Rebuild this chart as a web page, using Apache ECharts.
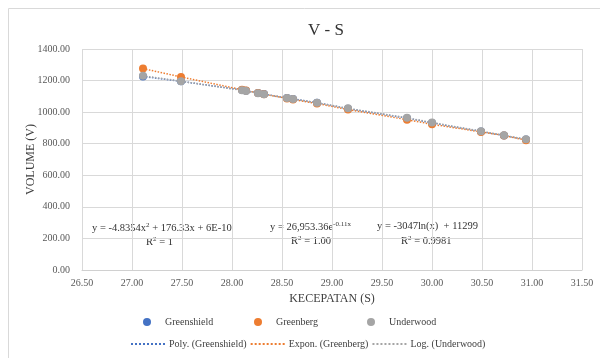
<!DOCTYPE html>
<html>
<head>
<meta charset="utf-8">
<script src="https://cdn.jsdelivr.net/npm/echarts@6/dist/echarts.min.js"></script>
<style>
  html, body { margin: 0; padding: 0; background: #fff; }
  #chart { width: 600px; height: 358px; }
</style>
</head>
<body>
<div id="chart"></div>
<script>
// kecepatan (S)
var speed = [27.11, 27.49, 28.10, 28.14, 28.26, 28.32, 28.55, 28.61, 28.85, 29.16, 29.75, 30.00, 30.49, 30.72, 30.94];
var greenshield = [1226, 1195, 1140, 1136, 1122, 1115, 1090, 1084, 1060, 1022, 962, 932, 878, 852, 826];
var greenberg = [1276, 1223, 1142, 1137, 1122, 1114, 1087, 1080, 1055, 1016, 952, 923, 875, 852, 822];
var underwood = [1230, 1196, 1138, 1134, 1120, 1113, 1089, 1083, 1060, 1024, 964, 934, 879, 853, 828];

var blue = '#4472C4', orange = '#ED7D31', gray = '#A5A5A5';
var serif = 'Liberation Serif';

function pairs(ys) {
    return speed.map(function (s, i) { return [s, ys[i]]; });
}

function dotLegend(name, left) {
    return {
        data: [name], left: left, top: 312,
        icon: 'circle', itemWidth: 8, itemHeight: 8,
        textStyle: { fontFamily: serif, fontSize: 10, color: '#404040', padding: [0, 0, 0, 9] }
    };
}

// rich text style for the trendline labels (superscripts)
var eqRich = {
    t: { fontFamily: serif, fontSize: 10.5, fill: '#333' },
    s: { fontFamily: serif, fontSize: 7, fill: '#333', padding: [0, 0, 5, 0] }
};

var myChart = echarts.init(document.getElementById('chart'));

var option = {
    animation: false,
    textStyle: { fontFamily: serif },
    title: {
        text: 'V - S',
        left: 321, top: 17, textAlign: 'center',
        textStyle: { fontFamily: serif, fontSize: 17, fontWeight: 'normal', color: '#333' }
    },
    grid: { left: 82, right: 18, top: 49, bottom: 88 },
    legend: [
        dotLegend('Greenshield', 138),
        dotLegend('Greenberg', 249),
        dotLegend('Underwood', 362),
        {
            data: ['Poly. (Greenshield)', 'Expon. (Greenberg)', 'Log. (Underwood)'],
            left: 125, top: 334,
            itemWidth: 35, itemHeight: 8, itemGap: 3,
            itemStyle: { opacity: 0 },
            textStyle: { fontFamily: serif, fontSize: 10, color: '#404040', padding: [0, 0, 0, -2] }
        }
    ],
    xAxis: {
        type: 'value', min: 26.5, max: 31.5, interval: 0.5,
        name: 'KECEPATAN (S)', nameLocation: 'middle', nameGap: 22,
        nameTextStyle: { fontFamily: serif, fontSize: 12, color: '#404040' },
        axisLine: { show: true, lineStyle: { color: '#d0d0d0' } },
        axisTick: { show: false },
        axisLabel: {
            fontFamily: serif, fontSize: 10, color: '#595959', margin: 8,
            formatter: function (v) { return v.toFixed(2); }
        },
        splitLine: { show: true, lineStyle: { color: '#d9d9d9' } }
    },
    yAxis: {
        type: 'value', min: 0, max: 1400, interval: 200,
        name: 'VOLUME (V)', nameLocation: 'middle', nameGap: 45, nameRotate: 90,
        nameMoveOverlap: false,
        nameTextStyle: { fontFamily: serif, fontSize: 12, color: '#404040' },
        axisLine: { show: false },
        axisTick: { show: false },
        axisLabel: {
            fontFamily: serif, fontSize: 10, color: '#595959', margin: 12,
            formatter: function (v) { return v.toFixed(2); }
        },
        splitLine: { show: true, lineStyle: { color: '#d9d9d9' } }
    },
    series: [
        {
            name: 'Poly. (Greenshield)', type: 'line', data: pairs(greenshield),
            symbol: 'none', z: 1, itemStyle: { color: blue },
            lineStyle: { color: blue, width: 1.5, type: 'dotted' }
        },
        {
            name: 'Expon. (Greenberg)', type: 'line', data: pairs(greenberg),
            symbol: 'none', z: 1, itemStyle: { color: orange },
            lineStyle: { color: orange, width: 1.5, type: 'dotted' }
        },
        {
            name: 'Log. (Underwood)', type: 'line', data: pairs(underwood),
            symbol: 'none', z: 1, itemStyle: { color: gray },
            lineStyle: { color: gray, width: 1.5, type: 'dotted' }
        },
        {
            name: 'Greenshield', type: 'scatter', data: pairs(greenshield),
            symbolSize: 8, z: 3, itemStyle: { color: blue, opacity: 1 }
        },
        {
            name: 'Greenberg', type: 'scatter', data: pairs(greenberg),
            symbolSize: 8, z: 3, itemStyle: { color: orange, opacity: 1 }
        },
        {
            name: 'Underwood', type: 'scatter', data: pairs(underwood),
            symbolSize: 8, z: 3, itemStyle: { color: gray, opacity: 1 }
        }
    ],
    graphic: [
        {
            type: 'rect', silent: true, z: -10,
            shape: { x: 8.5, y: 8.5, width: 620, height: 380 },
            style: { fill: 'none', stroke: '#d9d9d9', lineWidth: 1 }
        },
        {
            type: 'text', left: 92, top: 222,
            style: { text: '{t|y = -4.8354x}{s|2}{t| + 176.33x + 6E-10}', rich: eqRich }
        },
        {
            type: 'text', left: 146, top: 236,
            style: { text: '{t|R}{s|2}{t| = 1}', rich: eqRich }
        },
        {
            type: 'text', left: 270, top: 221,
            style: { text: '{t|y = 26,953.36e}{s|-0.11x}', rich: eqRich }
        },
        {
            type: 'text', left: 291, top: 235,
            style: { text: '{t|R}{s|2}{t| = 1.00}', rich: eqRich }
        },
        {
            type: 'text', left: 377, top: 221,
            style: { text: 'y = -3047ln(x)  + 11299', fontFamily: serif, fontSize: 10.5, fill: '#333' }
        },
        {
            type: 'text', left: 401, top: 235,
            style: { text: '{t|R}{s|2}{t| = 0.9981}', rich: eqRich }
        }
    ]
};

myChart.setOption(option);
</script>
</body>
</html>
